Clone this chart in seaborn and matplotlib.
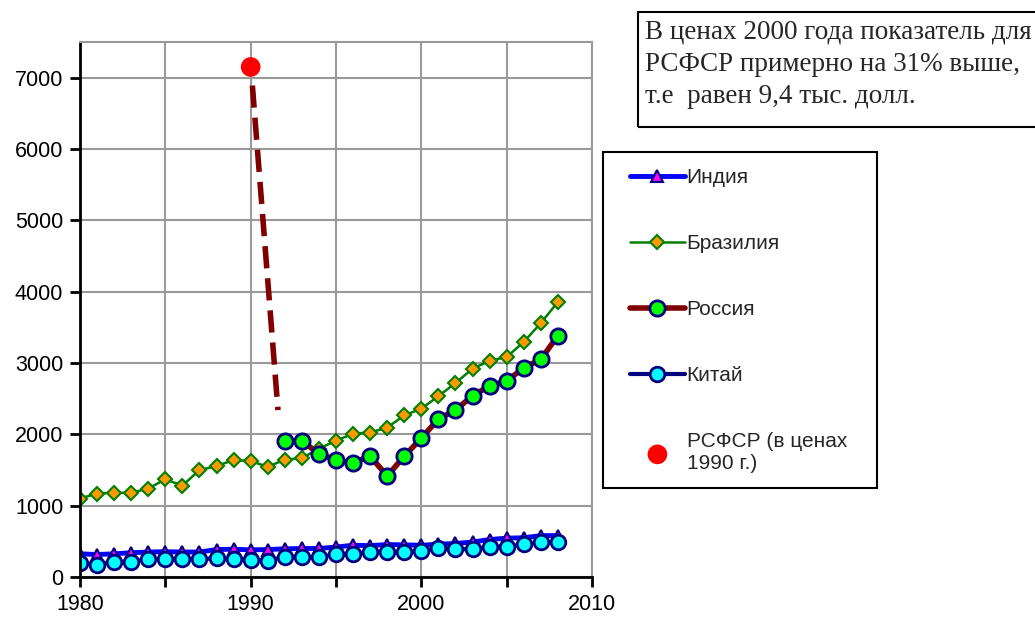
import matplotlib
matplotlib.use('Agg')
import matplotlib.pyplot as plt
import seaborn as sns
import pandas as pd
from matplotlib.patches import Rectangle

years = list(range(1980, 2009))
india = [325, 315, 325, 340, 350, 355, 350, 350, 385, 390,
         380, 385, 395, 400, 400, 420, 445, 440, 455, 450,
         445, 460, 470, 490, 525, 545, 550, 580, 580]
brazil = [1100, 1170, 1180, 1180, 1240, 1370, 1280, 1500, 1555, 1640,
          1625, 1545, 1645, 1665, 1800, 1910, 2010, 2025, 2095, 2265,
          2360, 2535, 2720, 2920, 3030, 3085, 3295, 3560, 3855]
russia_years = list(range(1992, 2009))
russia = [1905, 1905, 1730, 1635, 1600, 1695, 1415, 1695, 1945, 2215,
          2340, 2540, 2680, 2745, 2935, 3050, 3385]
china = [195, 170, 215, 210, 255, 250, 255, 255, 260, 255,
         245, 225, 285, 285, 275, 320, 320, 355, 355, 355,
         365, 400, 390, 390, 425, 425, 457, 485, 495]
rsfsr_year = [1990]
rsfsr = [7150]
dash_years = [1990.1, 1991.6]
dash_vals = [6890, 2340]

labels = ['Индия', 'Бразилия', 'Россия', 'Китай', 'РСФСР (в ценах\n1990 г.)']
note = 'В ценах 2000 года показатель для\nРСФСР примерно на 31% выше,\nт.е  равен 9,4 тыс. долл.'

sns.set_style('white')
plt.rcParams['font.family'] = ['Liberation Sans', 'DejaVu Sans']

df = pd.DataFrame({'year': years, 'india': india, 'brazil': brazil, 'china': china})
dfr = pd.DataFrame({'year': russia_years, 'russia': russia})

fig = plt.figure(figsize=(10.35, 6.17), dpi=100)
ax = fig.add_axes([80 / 1035, 40 / 617, 512 / 1035, 535 / 617])

sns.lineplot(data=df, x='year', y='india', ax=ax, color='blue', lw=3.5,
             marker='^', markersize=8, markerfacecolor='magenta',
             markeredgecolor='navy', markeredgewidth=1.5, label=labels[0])
sns.lineplot(data=df, x='year', y='brazil', ax=ax, color='green', lw=1.8,
             marker='D', markersize=7.5, markerfacecolor='#ff9900',
             markeredgecolor='green', markeredgewidth=1.5, label=labels[1])
sns.lineplot(data=dfr, x='year', y='russia', ax=ax, color='#800000', lw=4,
             marker='o', markersize=11, markerfacecolor='#00ff00',
             markeredgecolor='navy', markeredgewidth=2, label=labels[2])
sns.lineplot(data=df, x='year', y='china', ax=ax, color='navy', lw=3,
             marker='o', markersize=10.5, markerfacecolor='cyan',
             markeredgecolor='navy', markeredgewidth=2, label=labels[3])
sns.lineplot(x=dash_years, y=dash_vals, ax=ax, color='#800000', lw=4,
             dashes=(4, 1.8))
sns.scatterplot(x=rsfsr_year, y=rsfsr, ax=ax, color='red', s=200,
                edgecolor='none', label=labels[4], zorder=5)

ax.set_xlim(1980, 2010)
ax.set_ylim(0, 7500)
ax.set_xticks(range(1980, 2011, 5))
ax.set_xticklabels(['1980', '', '1990', '', '2000', '', '2010'])
ax.set_yticks(range(0, 8000, 1000))
ax.set_xlabel('')
ax.set_ylabel('')
ax.grid(True, color='#999999', lw=1.5)
ax.set_axisbelow(True)
for s in ['left', 'bottom']:
    ax.spines[s].set_color('black')
    ax.spines[s].set_linewidth(2)
for s in ['top', 'right']:
    ax.spines[s].set_color('#999999')
    ax.spines[s].set_linewidth(1.5)
ax.tick_params(direction='out', length=7, width=2, labelsize=15.5, pad=5,
               left=True, bottom=True, colors='black')

handles, lbls = ax.get_legend_handles_labels()
if ax.get_legend():
    ax.get_legend().remove()
fig.legend(handles, lbls, loc='upper left', bbox_to_anchor=(622 / 1035, 1 - 160 / 617),
           frameon=False, fontsize=15, handlelength=2.6, handletextpad=0.1,
           labelspacing=2.25, borderaxespad=0)
fig.add_artist(Rectangle((603 / 1035, (617 - 488) / 617), 274 / 1035, 336 / 617,
                         transform=fig.transFigure, fill=False, ec='black', lw=1.5))

fig.add_artist(Rectangle((638 / 1035, (617 - 127) / 617), 420 / 1035, 115 / 617,
                         transform=fig.transFigure, fill=False, ec='black', lw=1.5,
                         clip_on=False))
fig.text(645 / 1035, 1 - 19 / 617, note, va='top', ha='left', fontsize=19.5,
         family='Liberation Serif', linespacing=1.4)

fig.savefig('out.png', dpi=100)
